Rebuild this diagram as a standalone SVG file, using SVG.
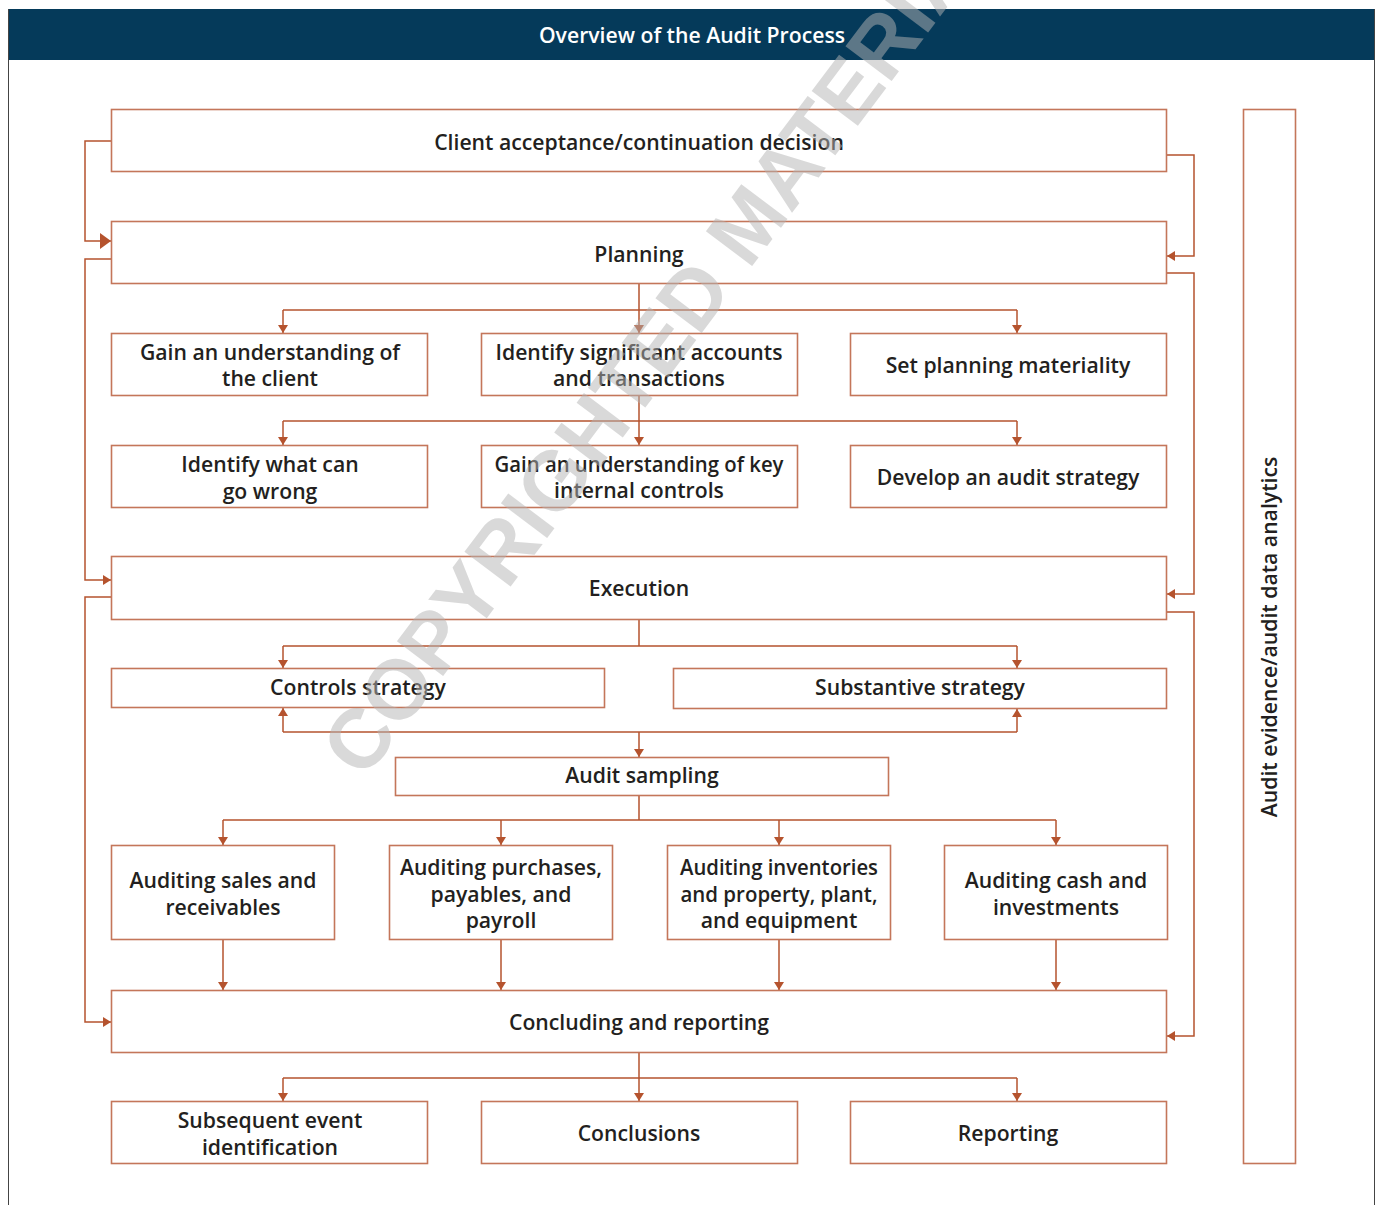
<svg xmlns="http://www.w3.org/2000/svg" width="1377" height="1205" viewBox="0 0 1377 1205">
<defs>
<style>
.box{fill:#ffffff;stroke:#c4765a;stroke-width:1.6}
.t{font-family:"Open Sans","Noto Sans",sans-serif;font-weight:600;font-size:21.2px;fill:#231f20;text-anchor:middle}
.c{fill:none;stroke:#b5532e;stroke-width:1.5}
.a{marker-end:url(#ah)}
</style>
<marker id="ah" viewBox="0 0 8 10" markerWidth="8" markerHeight="10" refX="8" refY="5" orient="auto" markerUnits="userSpaceOnUse">
<path d="M0,0 L8,5 L0,10 z" fill="#b5532e"/>
</marker>
<marker id="ahL" viewBox="0 0 11 16" markerWidth="11" markerHeight="16" refX="11" refY="8" orient="auto" markerUnits="userSpaceOnUse">
<path d="M0,0 L11,8 L0,16 z" fill="#b5532e"/>
</marker>
</defs>
<rect x="0" y="0" width="1377" height="1205" fill="#ffffff"/>
<g id="frame">
<rect x="8" y="9" width="1367" height="51" fill="#053a5a"/>
<line x1="8.5" y1="9" x2="8.5" y2="1205" stroke="#444" stroke-width="1"/>
<line x1="1374.5" y1="9" x2="1374.5" y2="1205" stroke="#444" stroke-width="1"/>
<text x="692" y="43" style="font-family:'Open Sans','Noto Sans',sans-serif;font-weight:600;font-size:21.2px;fill:#ffffff;text-anchor:middle">Overview of the Audit Process</text>
</g>
<g id="connectors">
<path class="c" d="M111,141 H85 V241 H111" marker-end="url(#ahL)"/>
<path class="c a" d="M111,259 H85 V580 H111"/>
<path class="c a" d="M111,597 H85 V1022 H111"/>
<path class="c a" d="M1167,155 H1194 V256 H1167"/>
<path class="c a" d="M1167,273 H1194 V594 H1167"/>
<path class="c a" d="M1167,612 H1194 V1036 H1167"/>
<path class="c a" d="M639,284 V333"/>
<path class="c" d="M283,310 H1017"/>
<path class="c a" d="M283,310 V333"/>
<path class="c a" d="M1017,310 V333"/>
<path class="c a" d="M639,396 V445"/>
<path class="c" d="M283,421 H1017"/>
<path class="c a" d="M283,421 V445"/>
<path class="c a" d="M1017,421 V445"/>
<path class="c" d="M639,620 V646 M283,646 H1017"/>
<path class="c a" d="M283,646 V668"/>
<path class="c a" d="M1017,646 V668"/>
<path class="c" d="M283,732 H1017"/>
<path class="c a" d="M283,732 V708"/>
<path class="c a" d="M1017,732 V709"/>
<path class="c a" d="M639,732 V757"/>
<path class="c" d="M639,796 V820 M223,820 H1056"/>
<path class="c a" d="M223,820 V845"/>
<path class="c a" d="M501,820 V845"/>
<path class="c a" d="M779,820 V845"/>
<path class="c a" d="M1056,820 V845"/>
<path class="c a" d="M223,940 V990"/>
<path class="c a" d="M501,940 V990"/>
<path class="c a" d="M779,940 V990"/>
<path class="c a" d="M1056,940 V990"/>
<path class="c a" d="M639,1052 V1101"/>
<path class="c" d="M283,1078 H1017"/>
<path class="c a" d="M283,1078 V1101"/>
<path class="c a" d="M1017,1078 V1101"/>
</g>
<g id="client"><rect class="box" x="111.5" y="109.5" width="1055" height="62"/><text class="t" x="639" y="150">Client acceptance/continuation decision</text></g>
<g id="planning"><rect class="box" x="111.5" y="221.5" width="1055" height="62"/><text class="t" x="639" y="262">Planning</text></g>
<g id="understand-client"><rect class="box" x="111.5" y="333.5" width="316" height="62"/><text class="t" x="270" y="360">Gain an understanding of</text><text class="t" x="270" y="386">the client</text></g>
<g id="significant"><rect class="box" x="481.5" y="333.5" width="316" height="62"/><text class="t" x="639" y="360">Identify significant accounts</text><text class="t" x="639" y="386">and transactions</text></g>
<g id="materiality"><rect class="box" x="850.5" y="333.5" width="316" height="62"/><text class="t" x="1008" y="373">Set planning materiality</text></g>
<g id="wrong"><rect class="box" x="111.5" y="445.5" width="316" height="62"/><text class="t" x="270" y="472">Identify what can</text><text class="t" x="270" y="499">go wrong</text></g>
<g id="controls-understand"><rect class="box" x="481.5" y="445.5" width="316" height="62"/><text class="t" x="639" y="472" textLength="289" lengthAdjust="spacingAndGlyphs">Gain an understanding of key</text><text class="t" x="639" y="498">internal controls</text></g>
<g id="strategy"><rect class="box" x="850.5" y="445.5" width="316" height="62"/><text class="t" x="1008" y="485">Develop an audit strategy</text></g>
<g id="execution"><rect class="box" x="111.5" y="556.5" width="1055" height="63"/><text class="t" x="639" y="596">Execution</text></g>
<g id="controls-strategy"><rect class="box" x="111.5" y="668.5" width="493" height="39"/><text class="t" x="358" y="695">Controls strategy</text></g>
<g id="substantive-strategy"><rect class="box" x="673.5" y="668.5" width="493" height="40"/><text class="t" x="920" y="695">Substantive strategy</text></g>
<g id="sampling"><rect class="box" x="395.5" y="757.5" width="493" height="38"/><text class="t" x="642" y="783">Audit sampling</text></g>
<g id="sales"><rect class="box" x="111.5" y="845.5" width="223" height="94"/><text class="t" x="223" y="888">Auditing sales and</text><text class="t" x="223" y="915">receivables</text></g>
<g id="purchases"><rect class="box" x="389.5" y="845.5" width="223" height="94"/><text class="t" x="501" y="875">Auditing purchases,</text><text class="t" x="501" y="902">payables, and</text><text class="t" x="501" y="928">payroll</text></g>
<g id="inventories"><rect class="box" x="667.5" y="845.5" width="223" height="94"/><text class="t" x="779" y="875" textLength="198" lengthAdjust="spacingAndGlyphs">Auditing inventories</text><text class="t" x="779" y="902" textLength="197" lengthAdjust="spacingAndGlyphs">and property, plant,</text><text class="t" x="779" y="928">and equipment</text></g>
<g id="cash"><rect class="box" x="944.5" y="845.5" width="223" height="94"/><text class="t" x="1056" y="888">Auditing cash and</text><text class="t" x="1056" y="915">investments</text></g>
<g id="concluding"><rect class="box" x="111.5" y="990.5" width="1055" height="62"/><text class="t" x="639" y="1030">Concluding and reporting</text></g>
<g id="subsequent"><rect class="box" x="111.5" y="1101.5" width="316" height="62"/><text class="t" x="270" y="1128">Subsequent event</text><text class="t" x="270" y="1155">identification</text></g>
<g id="conclusions"><rect class="box" x="481.5" y="1101.5" width="316" height="62"/><text class="t" x="639" y="1141">Conclusions</text></g>
<g id="reporting"><rect class="box" x="850.5" y="1101.5" width="316" height="62"/><text class="t" x="1008" y="1141">Reporting</text></g>
<g id="evidence"><rect class="box" x="1243.5" y="109.5" width="52" height="1054"/><text class="t" transform="translate(1277,637) rotate(-90)" x="0" y="0">Audit evidence/audit data analytics</text></g>
<g id="watermark"><text transform="translate(685,355) rotate(-53)" x="0" y="0" style="font-family:'Liberation Sans',Arial,sans-serif;font-weight:700;font-size:84px;fill:#b4b4b4;opacity:0.5;text-anchor:middle">COPYRIGHTED MATERIAL</text></g>
</svg>
